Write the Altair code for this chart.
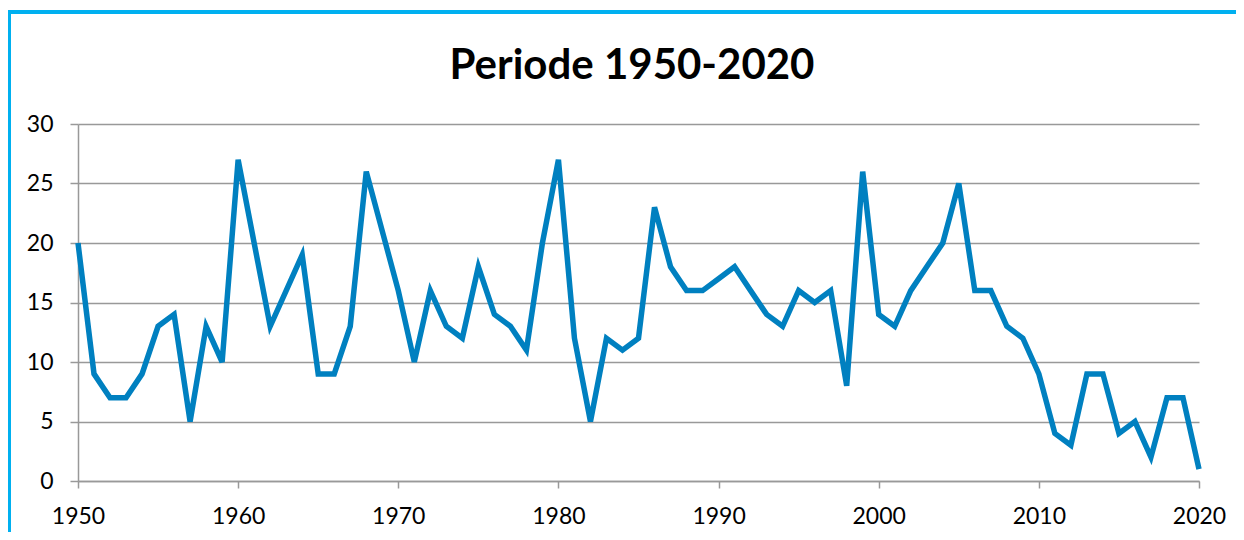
import altair as alt
import pandas as pd

years = list(range(1950, 2021))
values = [20, 9, 7, 7, 9, 13, 14, 5, 13, 10,
          27, 20, 13, 16, 19, 9, 9, 13, 26, 21,
          16, 10, 16, 13, 12, 18, 14, 13, 11, 20,
          27, 12, 5, 12, 11, 12, 23, 18, 16, 16,
          17, 18, 16, 14, 13, 16, 15, 16, 8, 26,
          14, 13, 16, 18, 20, 25, 16, 16, 13, 12,
          9, 4, 3, 9, 9, 4, 5, 2, 7, 7, 1]
x_ticks = [1950, 1960, 1970, 1980, 1990, 2000, 2010, 2020]
y_ticks = [0, 5, 10, 15, 20, 25, 30]
title_text = ["Periode 1950-2020"]

df = pd.DataFrame({"year": years, "value": values})
title_df = pd.DataFrame({"label": title_text})

W, H = 1121, 357
FONT = "Lato"

line = alt.Chart(df).mark_line(color="#0080C0", strokeWidth=5.5, strokeJoin="miter", strokeCap="butt").encode(
    x=alt.X("year:Q", scale=alt.Scale(domain=[1950, 2020], nice=False, zero=False),
            axis=alt.Axis(values=x_ticks, format="d", title=None, grid=False,
                          tickSize=7, labelPadding=17, labelFlush=False,
                          domainColor="#999999", tickColor="#999999",
                          domainWidth=1.5, tickWidth=1.5,
                          labelFont=FONT, labelFontSize=23, labelColor="#000000")),
    y=alt.Y("value:Q", scale=alt.Scale(domain=[0, 30], nice=False),
            axis=alt.Axis(values=y_ticks, title=None, grid=True, gridColor="#999999",
                          gridWidth=1.5, tickSize=8, labelPadding=17,
                          domainColor="#999999", tickColor="#999999", domainWidth=1.5,
                          tickWidth=1.5, labelFont=FONT, labelFontSize=23,
                          labelColor="#000000")),
)

frame_top = alt.Chart(df).mark_rule(color="#00B0F0", strokeWidth=2.5).encode(
    x=alt.value(-70), x2=alt.value(W + 40), y=alt.value(-112)
)
frame_left = alt.Chart(df).mark_rule(color="#00B0F0", strokeWidth=2.5).encode(
    x=alt.value(-69), y=alt.value(-113), y2=alt.value(H + 60)
)

title = alt.Chart(title_df).mark_text(
    font=FONT, fontSize=42, fontWeight="bold", color="#000000",
    align="center", baseline="alphabetic"
).encode(
    text="label:N", x=alt.value(554), y=alt.value(-45)
)

chart = alt.layer(frame_top, frame_left, title, line).properties(
    width=W, height=H,
    autosize=alt.AutoSizeParams(type="none"),
    padding={"left": 70, "top": 116, "right": 37, "bottom": 51},
).configure_view(stroke=None)

chart.save("out.html", embed_options={"renderer": "svg", "actions": False})
